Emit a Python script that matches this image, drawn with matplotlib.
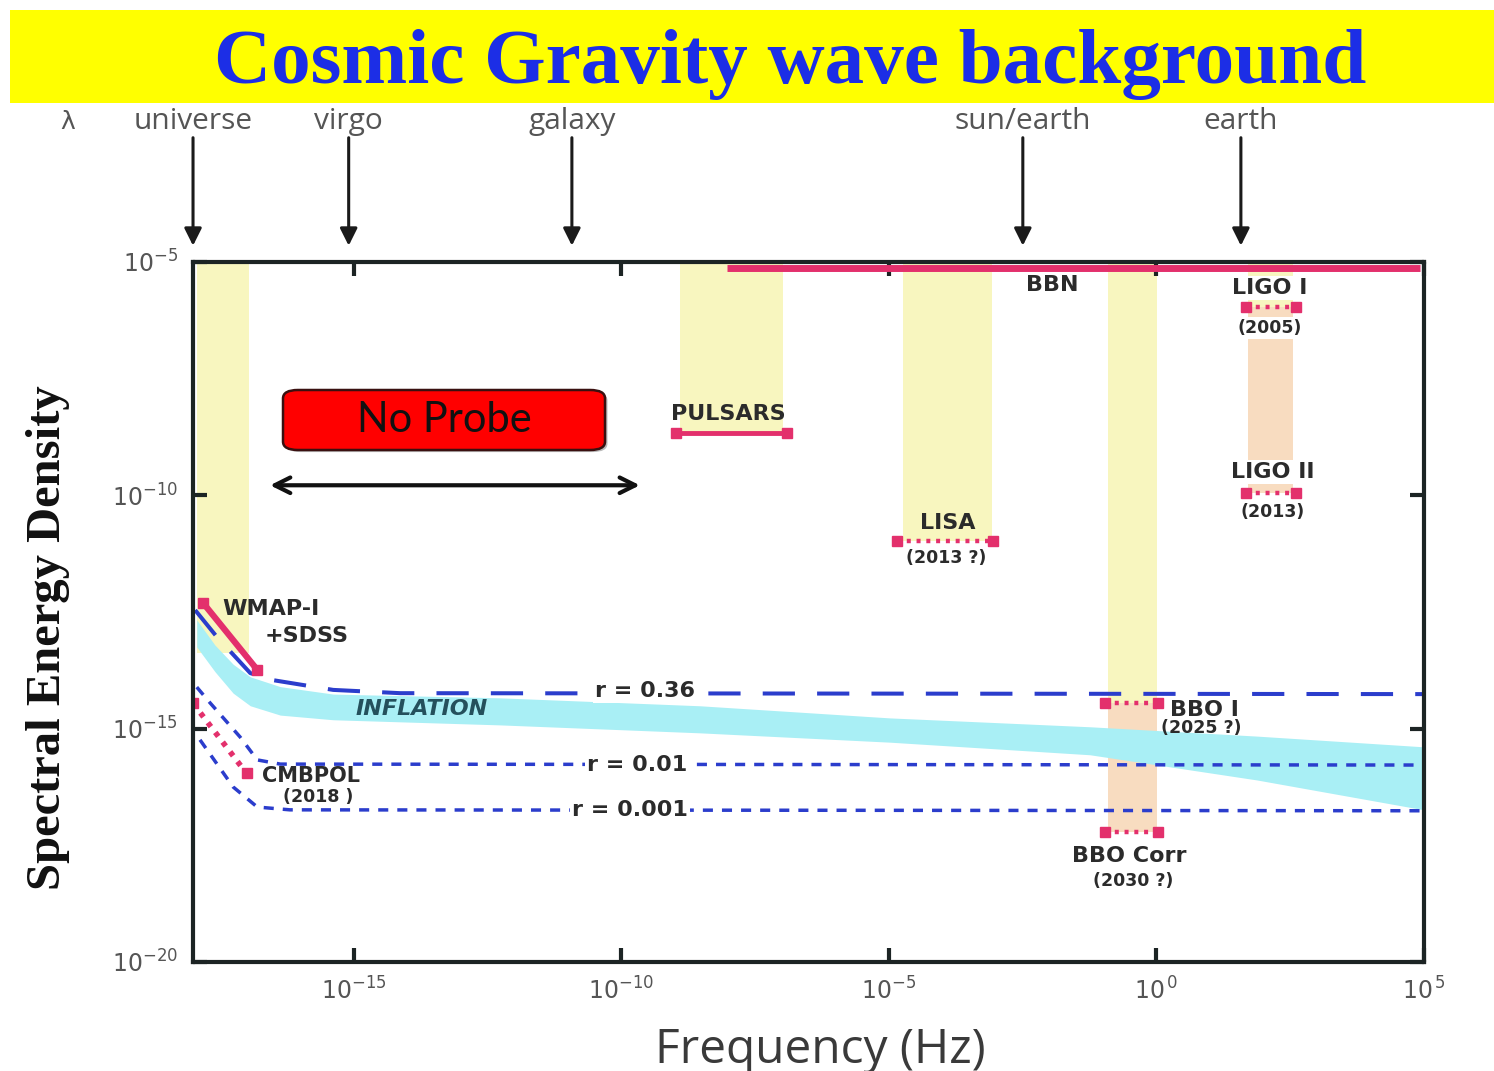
import numpy as np
import matplotlib
matplotlib.use("Agg")
import matplotlib.pyplot as plt
from matplotlib.patches import Rectangle, FancyBboxPatch
from matplotlib.ticker import NullLocator

plt.rcParams['mathtext.fontset'] = 'custom'
plt.rcParams['mathtext.rm'] = 'Open Sans'
plt.rcParams['mathtext.it'] = 'Open Sans:italic'
plt.rcParams['mathtext.bf'] = 'Open Sans:bold'
plt.rcParams['mathtext.default'] = 'regular'

# ---------------- data ----------------
x_ticks = [1e-15, 1e-10, 1e-5, 1e0, 1e5]
x_tick_labels = ['$10^{-15}$', '$10^{-10}$', '$10^{-5}$', '$10^{\\,0}$', '$10^{\\,5}$']
y_ticks = [1e-20, 1e-15, 1e-10, 1e-5]
y_tick_labels = ['$10^{-20}$', '$10^{-15}$', '$10^{-10}$', '$10^{-5}$']

# wavelength scales marked above the frequency axis
scale_names = ['universe', 'virgo', 'galaxy', 'sun/earth', 'earth']
scale_freqs = [1e-18, 8.1e-16, 1.2e-11, 3.2e-3, 38.0]

# inflationary background band (log10 of frequency and energy density)
infl_logf = [-17.93, -17.59, -17.25, -16.93, -16.37, -15.38, -12.26, -8.53, -4.98, -1.24, 1.88, 5.0]
infl_top_log = [-12.67, -13.21, -13.62, -13.89, -14.10, -14.26, -14.34, -14.51, -14.77, -14.96, -15.16, -15.39]
infl_bot_log = [-13.25, -13.78, -14.24, -14.51, -14.71, -14.81, -14.92, -15.09, -15.29, -15.56, -16.10, -16.74]

# tensor-to-scalar ratio curves (log10 values)
r036_logf = [-17.96, -17.55, -16.93, -16.51, -15.38, -14.13, 5.0]
r036_log = [-12.46, -13.04, -13.81, -13.96, -14.17, -14.24, -14.26]
r001_logf = [-17.93, -17.68, -17.12, -16.80, -16.37, 5.0]
r001_log = [-14.11, -14.45, -15.18, -15.67, -15.76, -15.78]
r0001_logf = [-17.87, -17.25, -16.80, -16.19, 5.0]
r0001_log = [-15.24, -16.25, -16.68, -16.74, -16.76]

# experiment sensitivities: frequency range and energy-density level
bbn_freq, bbn_level = [9.5e-9, 8.5e4], 7.4e-6
pulsar_freq, pulsar_level = [1.07e-9, 1.26e-7], 2.2e-9
lisa_freq, lisa_level = [1.4e-5, 8.9e-4], 1.05e-11
ligo_freq = [47.0, 410.0]
ligo1_level, ligo2_level = 1.1e-6, 1.1e-10
bbo_freq = [0.11, 1.07]
bbo1_level, bbocorr_level = 3.5e-15, 6.2e-18
wmap_freq, wmap_level = [1.55e-18, 1.6e-17], [4.9e-13, 1.8e-14]
cmbpol_freq, cmbpol_level = [1.0e-18, 1.0e-17], [3.5e-15, 1.1e-16]

# frequency windows of each probe
yellow_bands = [  # (f_lo, f_hi, y_lo, y_hi)
    (1.17e-18, 1.1e-17, 4.2e-14, 1e-5),
    (1.26e-9, 1.05e-7, 2.2e-9, 1e-5),
    (1.86e-5, 8.5e-4, 1.05e-11, 1e-5),
    (0.126, 1.02, 3.5e-15, 1e-5),
    (51.0, 355.0, 1.1e-6, 1e-5),
]
peach_bands = [
    (0.126, 1.02, 6.2e-18, 3.5e-15),
    (51.0, 355.0, 1.1e-10, 1.1e-6),
]

# ---------------- styles ----------------
MAG = '#e3306c'
BLUE = '#2b3dcc'
CYAN = '#a9eff5'
YELLOW = '#f8f6bf'
PEACH = '#f8dcc0'
INK = '#2b2b2b'
GRAY = '#555555'

fig = plt.figure(figsize=(14.94, 10.71), dpi=100)
ax = fig.add_axes([0.1292, 0.1018, 0.8239, 0.6536])
ax.set_xscale('log')
ax.set_yscale('log')
ax.set_xlim(1e-18, 1e5)
ax.set_ylim(1e-20, 1e-5)

# title banner
fig.patches.append(Rectangle((0.0067, 0.9038), 0.9933, 0.0868, transform=fig.transFigure,
                             facecolor='#ffff00', edgecolor='none', zorder=0))
fig.text(0.529, 0.940, 'Cosmic Gravity wave background', ha='center', va='center',
         family='Liberation Serif', weight='bold', size=57, color='#1c2ee6')

# probe windows
for f0, f1, y0, y1 in yellow_bands:
    ax.fill_between([f0, f1], y0, y1, color=YELLOW, lw=0, zorder=1)
for f0, f1, y0, y1 in peach_bands:
    ax.fill_between([f0, f1], y0, y1, color=PEACH, lw=0, zorder=1)

# inflation band
ax.fill_between(10.0 ** np.array(infl_logf), 10.0 ** np.array(infl_bot_log),
                10.0 ** np.array(infl_top_log), color=CYAN, lw=0, zorder=2)

# r curves
ax.plot(10.0 ** np.array(r036_logf), 10.0 ** np.array(r036_log), color=BLUE, lw=2.9,
        dashes=(8, 5.5), zorder=4)
ax.plot(10.0 ** np.array(r001_logf), 10.0 ** np.array(r001_log), color=BLUE, lw=2.5,
        dashes=(2.9, 2.6), zorder=4)
ax.plot(10.0 ** np.array(r0001_logf), 10.0 ** np.array(r0001_log), color=BLUE, lw=2.5,
        dashes=(2.9, 2.6), zorder=4)

# sensitivities
ax.plot(bbn_freq, [bbn_level] * 2, color=MAG, lw=5, solid_capstyle='butt', zorder=5)
ax.plot(pulsar_freq, [pulsar_level] * 2, color=MAG, lw=3.5, marker='s', ms=7, zorder=5)


def dotted_limit(freqs, levels, ms=7, lw=3.2):
    ax.plot(freqs, levels, color=MAG, lw=lw, dashes=(0.9, 1.3), zorder=5)
    ax.plot(freqs, levels, color=MAG, lw=0, marker='s', ms=ms, zorder=5)


dotted_limit(lisa_freq, [lisa_level] * 2)
dotted_limit(ligo_freq, [ligo1_level] * 2)
dotted_limit(ligo_freq, [ligo2_level] * 2)
dotted_limit(bbo_freq, [bbo1_level] * 2)
dotted_limit(bbo_freq, [bbocorr_level] * 2)
ax.plot(wmap_freq, wmap_level, color=MAG, lw=4.5, marker='s', ms=7, zorder=5)
dotted_limit(cmbpol_freq, cmbpol_level, lw=4)

# axes styling
for sp in ax.spines.values():
    sp.set_linewidth(3)
    sp.set_color('#1c2424')
    sp.set_zorder(6)
ax.set_xticks(x_ticks)
ax.set_xticklabels(x_tick_labels)
ax.set_yticks(y_ticks)
ax.set_yticklabels(y_tick_labels)
ax.xaxis.set_minor_locator(NullLocator())
ax.yaxis.set_minor_locator(NullLocator())
ax.tick_params(which='major', direction='in', length=10, width=3, top=True, right=True,
               labelsize=17, labelcolor=GRAY, color='#1c2424', pad=11)

# scale arrows above the axes
for name, f in zip(scale_names, scale_freqs):
    ax.annotate('', xy=(f, 0.768), xytext=(f, 0.874),
                xycoords=('data', 'figure fraction'), textcoords=('data', 'figure fraction'),
                arrowprops=dict(arrowstyle='-|>', lw=2.2, color='#1a1a1a', mutation_scale=26),
                annotation_clip=False)
    ax.annotate(name, xy=(f, 0.887), xycoords=('data', 'figure fraction'), ha='center',
                va='center', size=21.5, color=GRAY, family='Open Sans', annotation_clip=False)
fig.text(0.0455, 0.886, 'λ', ha='center', va='center', size=18, color=GRAY,
         family='DejaVu Sans')

# axis labels
fig.text(0.032, 0.405, 'Spectral Energy Density', rotation=90, ha='center', va='center',
         family='Liberation Serif', weight='bold', size=35, color='#111111')
fig.text(0.549, 0.0196, 'Frequency (Hz)', ha='center', va='center', family='Open Sans',
         size=34.5, color='#3a3a3a')

# annotations
lab = dict(transform=ax.transAxes, family='DejaVu Sans', weight='bold', color=INK, zorder=7)
wbox = dict(facecolor='white', edgecolor='none', pad=1.5)
ax.text(0.698, 0.967, 'BBN', ha='center', va='center', size=16, **lab)
ax.text(0.875, 0.963, 'LIGO I', ha='center', va='center', size=16, bbox=wbox, **lab)
ax.text(0.875, 0.906, '(2005)', ha='center', va='center', size=12.5, bbox=wbox, **lab)
ax.text(0.435, 0.783, 'PULSARS', ha='center', va='center', size=16, **lab)
ax.text(0.877, 0.700, 'LIGO II', ha='center', va='center', size=16, bbox=wbox, **lab)
ax.text(0.877, 0.643, '(2013)', ha='center', va='center', size=12.5, bbox=wbox, **lab)
ax.text(0.613, 0.627, 'LISA', ha='center', va='center', size=16, **lab)
ax.text(0.612, 0.577, '(2013 ?)', ha='center', va='center', size=12.5, **lab)
ax.text(0.0236, 0.504, 'WMAP-I', ha='left', va='center', size=16, **lab)
ax.text(0.0585, 0.466, '+SDSS', ha='left', va='center', size=16, **lab)
ax.text(0.186, 0.361, 'INFLATION', ha='center', va='center', size=16, style='italic',
        transform=ax.transAxes, family='DejaVu Sans', weight='bold', color='#24505c', zorder=7)
ax.text(0.367, 0.387, 'r = 0.36', ha='center', va='center', size=16, bbox=wbox, **lab)
ax.text(0.056, 0.266, 'CMBPOL', ha='left', va='center', size=15, **lab)
ax.text(0.073, 0.236, '(2018 )', ha='left', va='center', size=12.5, **lab)
ax.text(0.361, 0.281, 'r = 0.01', ha='center', va='center', size=16, bbox=wbox, **lab)
ax.text(0.355, 0.217, 'r = 0.001', ha='center', va='center', size=16, bbox=wbox, **lab)
ax.text(0.794, 0.360, 'BBO I', ha='left', va='center', size=16, **lab)
ax.text(0.786, 0.334, '(2025 ?)', ha='left', va='center', size=12.5, **lab)
ax.text(0.761, 0.151, 'BBO Corr', ha='center', va='center', size=16, **lab)
ax.text(0.764, 0.116, '(2030 ?)', ha='center', va='center', size=12.5, **lab)

# "No Probe" box and range arrow
shadow = FancyBboxPatch((0.0751, 0.7284), 0.2616, 0.0857, boxstyle='round,pad=0,rounding_size=0.012',
                        transform=ax.transAxes, facecolor='#bbbbbb', edgecolor='none', zorder=7)
box = FancyBboxPatch((0.0731, 0.7314), 0.2616, 0.0857, boxstyle='round,pad=0,rounding_size=0.012',
                     transform=ax.transAxes, facecolor='#ff0000', edgecolor='#3a1010', lw=1.8,
                     zorder=8)
ax.add_patch(shadow)
ax.add_patch(box)
ax.text(0.204, 0.774, 'No Probe', transform=ax.transAxes, ha='center', va='center',
        family='Lato', size=30, color='#111111', zorder=9)
ax.annotate('', xy=(0.0626, 0.681), xytext=(0.363, 0.681), xycoords='axes fraction',
            textcoords='axes fraction',
            arrowprops=dict(arrowstyle='<->', lw=3, color='#111111', mutation_scale=28,
                            shrinkA=0, shrinkB=0), zorder=9)

fig.savefig('out.png', dpi=100, facecolor='white')
